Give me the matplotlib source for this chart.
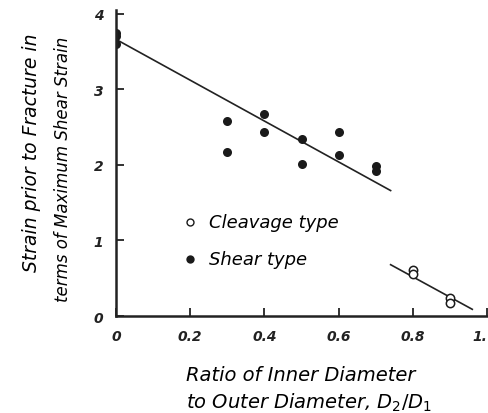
import matplotlib.pyplot as plt

# Shear type specimens (filled dots)
shear_x = [0.0, 0.0, 0.0, 0.3, 0.3, 0.4, 0.4, 0.5, 0.5, 0.6, 0.6, 0.7, 0.7]
shear_y = [3.74, 3.70, 3.60, 2.58, 2.17, 2.67, 2.43, 2.34, 2.01, 2.44, 2.13, 1.99, 1.92]

# Cleavage type specimens (open circles)
cleavage_x = [0.8, 0.8, 0.9, 0.9]
cleavage_y = [0.61, 0.56, 0.24, 0.18]

# Hand drawn trend lines
shear_fit_x = [0.0, 0.74]
shear_fit_y = [3.66, 1.66]
cleavage_fit_x = [0.74, 0.96]
cleavage_fit_y = [0.68, 0.09]

x_ticks = [0, 0.2, 0.4, 0.6, 0.8, 1.0]
x_labels = ['0', '0.2', '0.4', '0.6', '0.8', '1.']
y_ticks = [0, 1, 2, 3, 4]

fig = plt.figure(figsize=(4.89, 4.14), dpi=100)
ax = fig.add_axes([0.237, 0.234, 0.763, 0.74])

ax.plot(shear_fit_x, shear_fit_y, color='#222222', lw=1.2)
ax.plot(cleavage_fit_x, cleavage_fit_y, color='#222222', lw=1.2)
ax.plot(shear_x, shear_y, 'o', color='#1a1a1a', ms=6.5, mec='none')
ax.plot(cleavage_x, cleavage_y, 'o', mfc='white', mec='#1a1a1a', ms=6, mew=1.1)

ax.set_xlim(0, 1.005)
ax.set_ylim(0, 4.05)
for side in ['top', 'right']:
    ax.spines[side].set_visible(False)
for side in ['left', 'bottom']:
    ax.spines[side].set_linewidth(1.8)
    ax.spines[side].set_color('#222222')

ax.set_xticks(x_ticks)
ax.set_xticklabels(x_labels)
ax.set_yticks(y_ticks)
ax.tick_params(direction='in', length=6, width=1.3, colors='#222222', pad=9)
for lab in ax.get_xticklabels() + ax.get_yticklabels():
    lab.set_fontstyle('italic')
    lab.set_fontweight('bold')
    lab.set_fontsize(10)
# keep the last x label inside the figure
ax.get_xticklabels()[-1].set_horizontalalignment('right')

# legend written inside the plot area
ax.plot([0.2], [1.25], 'o', mfc='white', mec='#1a1a1a', ms=5, mew=1.0)
ax.plot([0.2], [0.76], 'o', color='#1a1a1a', ms=6, mec='none')
ax.text(0.25, 1.25, 'Cleavage type', fontsize=13, style='italic', va='center')
ax.text(0.25, 0.76, 'Shear type', fontsize=13, style='italic', va='center')

fig.text(0.065, 0.63, 'Strain prior to Fracture in', rotation=90,
         fontsize=13.5, style='italic', ha='center', va='center')
fig.text(0.128, 0.59, 'terms of Maximum Shear Strain', rotation=90,
         fontsize=12, style='italic', ha='center', va='center')
fig.text(0.38, 0.094, 'Ratio of Inner Diameter', fontsize=14,
         style='italic', ha='left', va='center')
fig.text(0.38, 0.026, 'to Outer Diameter, $D_2/D_1$', fontsize=14,
         style='italic', ha='left', va='center')

fig.savefig('out.png', dpi=100)
